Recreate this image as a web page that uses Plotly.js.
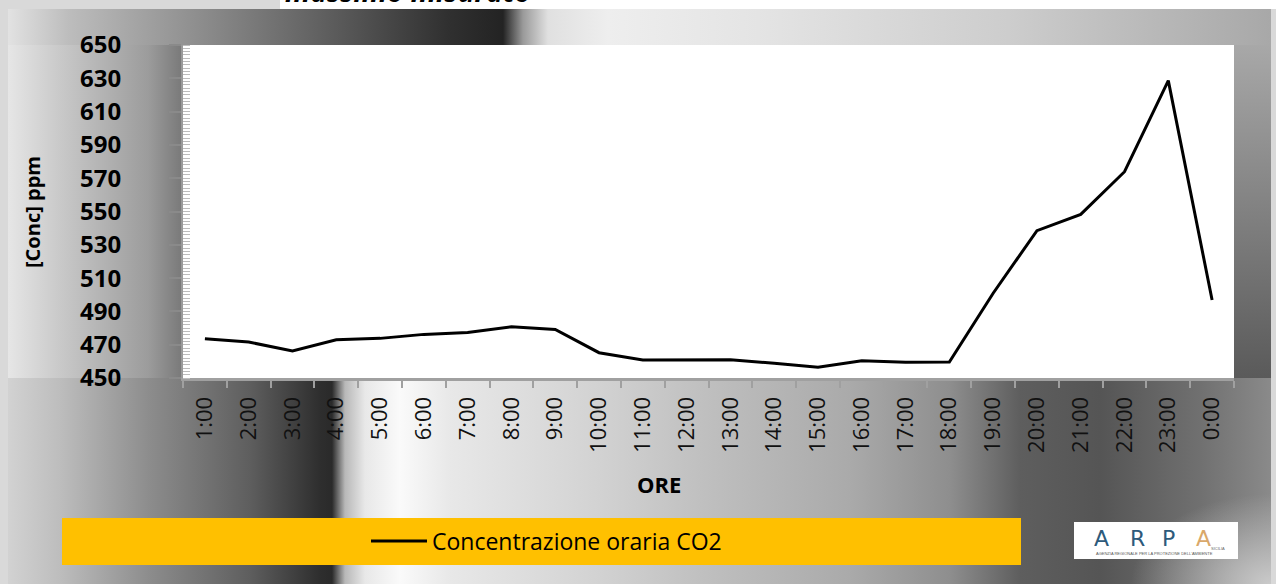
<!DOCTYPE html>
<html>
<head>
<meta charset="utf-8">
<script src="https://cdn.plot.ly/plotly-3.0.1.min.js"></script>
<style>
  html, body { margin:0; padding:0; width:1276px; height:584px; overflow:hidden; background:#d9d9d9; }
  #stage { position:relative; width:1276px; height:584px; }
  .bg { position:absolute; }
  #topstrip { left:280px; top:0; width:996px; height:9px; background:#ffffff; }
  #band { left:8px; top:9px; width:1263px; height:36px;
    background: linear-gradient(90deg, #e2e2e2 0px, #bdbdbd 60px, #8a8a8a 200px, #5a5a5a 330px, #303030 440px, #232323 495px, #9a9a9a 515px, #e0e0e0 540px, #eeeeee 600px, #e4e4e4 750px, #cdcdcd 1000px, #a8a8a8 1263px); }
  #leftcol { left:8px; top:45px; width:180px; height:333px;
    background: linear-gradient(90deg, #e6e6e6 0px, #cacaca 50px, #9c9c9c 140px, #737373 180px); }
  #rightcol { left:1230px; top:45px; width:41px; height:333px;
    background: linear-gradient(180deg, #a8a8a8 0%, #5a5a5a 100%); }
  #bottom { left:8px; top:378px; width:1263px; height:206px;
    background:
      radial-gradient(ellipse 140px 90px at 1263px 206px, rgba(205,205,205,0.95) 0%, rgba(205,205,205,0) 100%),
      linear-gradient(90deg, #d2d2d2 0px, #bdbdbd 52px, #8c8c8c 142px, #5e5e5e 242px, #2e2e2e 312px, #2a2a2a 324px, #b8b8b8 337px, #e8e8e8 357px, #fafafa 392px, #e8e8e8 442px, #d2d2d2 592px, #c0c0c0 692px, #aaaaaa 842px, #8e8e8e 942px, #5e5e5e 1012px, #555555 1092px, #707070 1192px, #8a8a8a 1263px); }
  #chart { position:absolute; left:0; top:0; width:1276px; height:584px; }
</style>
</head>
<body>
<div id="stage">
  <div class="bg" id="topstrip"></div>
  <div class="bg" id="band"></div>
  <div class="bg" id="leftcol"></div>
  <div class="bg" id="rightcol"></div>
  <div class="bg" id="bottom"></div>
  <div id="chart"></div>
</div>
<script>
// ---- data ----
const hours = ['1:00','2:00','3:00','4:00','5:00','6:00','7:00','8:00','9:00','10:00','11:00','12:00',
               '13:00','14:00','15:00','16:00','17:00','18:00','19:00','20:00','21:00','22:00','23:00','0:00'];
const co2 = [473.5, 471.6, 466.2, 473.0, 473.8, 476.2, 477.4, 480.8, 479.2, 465.2, 460.8, 460.8,
             461.0, 458.8, 456.4, 460.4, 459.4, 459.6, 500.9, 538.5, 548.3, 573.9, 628.6, 496.8];
const seriesName = 'Concentrazione oraria CO2';
const yTickVals = [450,470,490,510,530,550,570,590,610,630,650];
const titleText = 'massimo misurato';
const xTitle = 'ORE';
const yTitle = '[Conc] ppm';

// ---- geometry helpers (pixel -> paper) ----
const W = 1276, H = 584, ML = 183, MR = 42, MT = 45, MB = 206;
const PW = W - ML - MR, PH = H - MT - MB;
const px = x => (x - ML) / PW;
const py = y => (H - MB - y) / PH;

const trace = {
  x: hours, y: co2, type: 'scatter', mode: 'lines', name: seriesName,
  line: {color: '#000000', width: 3}
};

const logoFont = c => ({size: 22, family: 'DejaVu Sans, sans-serif', color: c});

const layout = {
  width: W, height: H,
  margin: {l: ML, r: MR, t: MT, b: MB, pad: 0},
  paper_bgcolor: 'rgba(0,0,0,0)',
  plot_bgcolor: '#ffffff',
  font: {family: 'Open Sans, Noto Sans, sans-serif', color: '#000'},
  showlegend: true,
  legend: {
    orientation: 'h', x: px(366), xanchor: 'left', y: py(541), yanchor: 'middle',
    bgcolor: 'rgba(0,0,0,0)', font: {size: 23, family: 'Open Sans, sans-serif', color: '#000'},
    itemwidth: 56
  },
  xaxis: {
    type: 'category', range: [-0.5, hours.length - 0.5],
    tickson: 'boundaries', ticks: 'outside', ticklen: 7, tickwidth: 2, tickcolor: '#a0a0a0',
    showline: true, linecolor: '#a0a0a0', linewidth: 3, showgrid: false, zeroline: false,
    tickangle: -90, tickfont: {size: 22, family: 'Open Sans, sans-serif', color: '#111'},
    ticklabelstandoff: 7,
    automargin: false, fixedrange: true
  },
  yaxis: {
    range: [450, 650], tickvals: yTickVals, ticks: 'outside', ticklen: 12, tickwidth: 2, tickcolor: '#8a8a8a',
    showline: true, linecolor: '#9a9a9a', linewidth: 2, showgrid: false, zeroline: false,
    minor: {dtick: 2, ticks: 'inside', ticklen: 7, tickwidth: 1, tickcolor: '#bdbdbd'},
    tickfont: {size: 24, family: 'Open Sans, sans-serif', weight: 'bold', color: '#000'},
    ticklabelstandoff: 43,
    automargin: false, fixedrange: true
  },
  shapes: [
    {type: 'rect', xref: 'paper', yref: 'paper', x0: px(62), x1: px(1021), y0: py(518), y1: py(565),
     fillcolor: '#ffc000', line: {width: 0}, layer: 'below'},
    {type: 'rect', xref: 'paper', yref: 'paper', x0: px(1074), x1: px(1238), y0: py(522), y1: py(559),
     fillcolor: '#ffffff', line: {width: 0}, layer: 'below'}
  ],
  annotations: [
    {text: '<b><i>' + titleText + '</i></b>', xref: 'paper', yref: 'paper', x: px(283), xanchor: 'left',
     y: py(12), yanchor: 'bottom', showarrow: false,
     font: {size: 28, family: 'Open Sans, sans-serif', color: '#000'}},
    {text: '<b>' + xTitle + '</b>', xref: 'paper', yref: 'paper', x: px(659), xanchor: 'center',
     y: py(484), yanchor: 'middle', showarrow: false,
     font: {size: 22, family: 'Open Sans, sans-serif', color: '#000'}},
    {text: '<b>' + yTitle + '</b>', xref: 'paper', yref: 'paper', x: px(32), xanchor: 'center',
     y: py(212), yanchor: 'middle', textangle: -90, showarrow: false,
     font: {size: 20, family: 'Open Sans, sans-serif', color: '#000'}},
    {text: 'A', xref: 'paper', yref: 'paper', x: px(1101), y: py(538), xanchor: 'center', yanchor: 'middle', showarrow: false,
     font: logoFont('#2d5a7b')},
    {text: 'R', xref: 'paper', yref: 'paper', x: px(1137), y: py(538), xanchor: 'center', yanchor: 'middle', showarrow: false,
     font: logoFont('#2d5a7b')},
    {text: 'P', xref: 'paper', yref: 'paper', x: px(1168), y: py(538), xanchor: 'center', yanchor: 'middle', showarrow: false,
     font: logoFont('#2d5a7b')},
    {text: 'A', xref: 'paper', yref: 'paper', x: px(1203), y: py(538), xanchor: 'center', yanchor: 'middle', showarrow: false,
     font: logoFont('#d9a86a')},
    {text: 'SICILIA', xref: 'paper', yref: 'paper', x: px(1218), y: py(548), xanchor: 'center', yanchor: 'middle', showarrow: false,
     font: {size: 4, family: 'Liberation Sans, sans-serif', color: '#666'}},
    {text: 'AGENZIA REGIONALE PER LA PROTEZIONE DELL\'AMBIENTE', xref: 'paper', yref: 'paper', x: px(1154), y: py(553),
     xanchor: 'center', yanchor: 'middle', showarrow: false,
     font: {size: 4, family: 'Liberation Sans, sans-serif', color: '#555'}}
  ]
};

Plotly.newPlot('chart', [trace], layout, {displayModeBar: false, staticPlot: true});
</script>
</body>
</html>
